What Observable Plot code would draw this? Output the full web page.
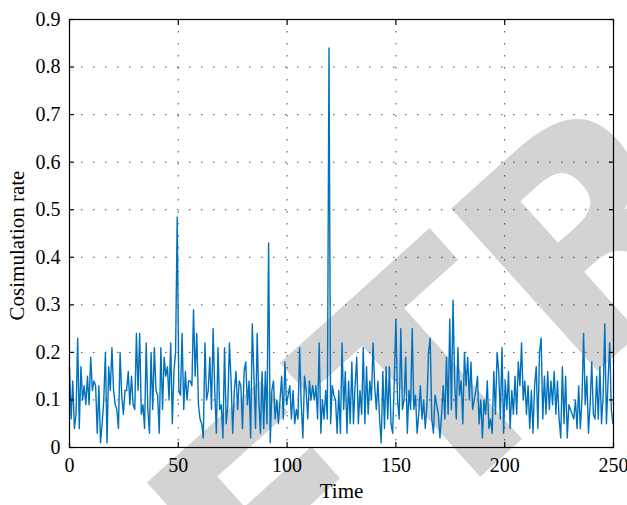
<!DOCTYPE html>
<html>
<head>
<meta charset="utf-8">
<script src="https://cdn.jsdelivr.net/npm/d3@7"></script>
<script src="https://cdn.jsdelivr.net/npm/@observablehq/plot@0.6"></script>
<style>
  html, body { margin: 0; padding: 0; background: #fff; }
  #chart svg { display: block; }
</style>
</head>
<body>
<div id="chart"></div>
<script>
// Sampling step of the series (time units)
const timeStep = 0.75;

// Cosimulation rate values, in time order
const segmentA = [
  0.17, 0.06, 0.14, 0.04, 0.07, 0.23, 0.04, 0.17, 0.10, 0.13,
  0.09, 0.15, 0.09, 0.19, 0.12, 0.14, 0.13, 0.03, 0.13, 0.01,
  0.05, 0.10, 0.20, 0.01, 0.17, 0.12, 0.21, 0.12, 0.09, 0.08,
  0.04, 0.20, 0.11, 0.07, 0.12, 0.12, 0.16, 0.09, 0.15, 0.09,
  0.08, 0.24, 0.12, 0.24, 0.07, 0.09, 0.04, 0.22, 0.08, 0.03,
  0.20, 0.08, 0.21, 0.12, 0.11, 0.03, 0.21, 0.08, 0.19, 0.15,
  0.17, 0.10, 0.22, 0.05, 0.16, 0.20, 0.485, 0.12, 0.11, 0.24,
  0.08, 0.16, 0.10, 0.14, 0.14, 0.13, 0.29, 0.15, 0.24, 0.09,
  0.06, 0.05, 0.02, 0.22
];
const segmentB = [
  0.10, 0.12, 0.19, 0.08, 0.25, 0.12, 0.03, 0.21, 0.08, 0.09,
  0.02, 0.21, 0.05, 0.09, 0.22, 0.14, 0.03, 0.12, 0.16, 0.08,
  0.14, 0.13, 0.04, 0.16, 0.18, 0.09, 0.14, 0.02, 0.26, 0.15,
  0.04, 0.24, 0.10, 0.03, 0.16, 0.04, 0.16, 0.05, 0.43
];
const segmentC = [
  0.01, 0.12, 0.14, 0.06, 0.10, 0.05, 0.10, 0.15, 0.06, 0.18,
  0.09, 0.11, 0.13, 0.06, 0.12, 0.05, 0.08, 0.06, 0.21, 0.09,
  0.02, 0.15, 0.12, 0.06, 0.14, 0.10, 0.13, 0.10, 0.13, 0.06,
  0.22, 0.03, 0.10, 0.06, 0.12, 0.06, 0.84
];
const segmentD = [
  0.05, 0.13, 0.11, 0.10, 0.03, 0.12, 0.03, 0.22, 0.08, 0.16,
  0.03, 0.14, 0.05, 0.18, 0.05, 0.13, 0.19, 0.05, 0.12, 0.07,
  0.21, 0.05, 0.17, 0.07, 0.14, 0.10, 0.22, 0.13, 0.08, 0.14,
  0.06, 0.01, 0.16, 0.04, 0.17, 0.06, 0.17, 0.05, 0.03, 0.14,
  0.27, 0.10, 0.06, 0.25, 0.08, 0.10, 0.19, 0.03, 0.12, 0.08,
  0.25, 0.08, 0.11, 0.03, 0.07, 0.13, 0.06, 0.10, 0.04, 0.09,
  0.20, 0.23, 0.06, 0.03, 0.11, 0.09, 0.07, 0.02, 0.07, 0.13,
  0.06, 0.19, 0.07, 0.27, 0.08, 0.31
];
const segmentE = [
  0.14, 0.06, 0.21, 0.11, 0.14, 0.05, 0.20, 0.13, 0.19, 0.10,
  0.18, 0.08, 0.10,
  0.12, 0.15, 0.05, 0.10, 0.02, 0.10, 0.07, 0.14, 0.04, 0.06,
  0.03, 0.16, 0.07, 0.20, 0.16, 0.06, 0.21, 0.03, 0.14, 0.08,
  0.16, 0.04, 0.12, 0.07, 0.15, 0.07, 0.18, 0.13, 0.22, 0.10,
  0.14, 0.07, 0.13, 0.04, 0.12, 0.03, 0.13, 0.17, 0.04, 0.20,
  0.23, 0.06, 0.15, 0.07, 0.16, 0.08, 0.14, 0.09, 0.16, 0.07,
  0.14, 0.06, 0.02, 0.17, 0.05, 0.15, 0.02, 0.09, 0.08, 0.07,
  0.06, 0.10, 0.04, 0.13, 0.04, 0.10, 0.24, 0.09, 0.15, 0.03,
  0.09, 0.18, 0.07, 0.06, 0.15, 0.06, 0.17, 0.05, 0.11, 0.26,
  0.05, 0.14, 0.22, 0.08, 0.05
];

const xTicks = [0, 50, 100, 150, 200, 250];
const yTicks = [0, 0.1, 0.2, 0.3, 0.4, 0.5, 0.6, 0.7, 0.8, 0.9];
const yTickLabels = ["0", "0.1", "0.2", "0.3", "0.4", "0.5", "0.6", "0.7", "0.8", "0.9"];
const xLabel = "Time";
const yLabel = "Cosimulation rate";
const watermark = "RETRACTED";

const values = [...segmentA, ...segmentB, ...segmentC, ...segmentD, ...segmentE];
const data = values.map((v, i) => ({t: i * timeStep, v}));

const font = "'Liberation Serif', 'Times New Roman', serif";
const fs = 20;

const chart = Plot.plot({
  width: 627,
  height: 505,
  marginLeft: 69,
  marginRight: 14,
  marginTop: 19,
  marginBottom: 58,
  style: {fontFamily: font, fontSize: fs + "px", background: "#fff", color: "#000", overflow: "hidden"},
  x: {domain: [0, 250]},
  y: {domain: [0, 0.9]},
  marks: [
    Plot.text([watermark], {frameAnchor: "middle", dx: 432, dy: -150, rotate: -42,
      fontSize: 300, fontWeight: "bold", fill: "#d3d3d3", fontFamily: "'DejaVu Sans', sans-serif"}),
    Plot.gridX({ticks: xTicks.slice(1, -1), stroke: "#000", strokeOpacity: 0.7, strokeWidth: 1, strokeDasharray: "1.5,10.5"}),
    Plot.gridY({ticks: yTicks.slice(1, -1), stroke: "#000", strokeOpacity: 0.7, strokeWidth: 1, strokeDasharray: "1.5,10.5"}),
    Plot.line(data, {x: "t", y: "v", stroke: "#0072BD", strokeWidth: 1.4}),
    Plot.frame({stroke: "#000", strokeWidth: 1.2}),
    Plot.axisX({anchor: "bottom", ticks: xTicks, tickSize: 0, tickPadding: 10, label: null, fontSize: fs, tickFormat: d => String(d)}),
    Plot.axisX({anchor: "bottom", ticks: xTicks, tickSize: -5, tickFormat: () => "", label: null, strokeWidth: 1.2}),
    Plot.axisX({anchor: "top", ticks: xTicks, tickSize: -5, tickFormat: () => "", label: null, strokeWidth: 1.2}),
    Plot.axisY({anchor: "left", ticks: yTicks, tickSize: 0, tickPadding: 9, label: null, fontSize: fs, tickFormat: (d, i) => yTickLabels[i]}),
    Plot.axisY({anchor: "left", ticks: yTicks, tickSize: -5, tickFormat: () => "", label: null, strokeWidth: 1.2}),
    Plot.axisY({anchor: "right", ticks: yTicks, tickSize: -5, tickFormat: () => "", label: null, strokeWidth: 1.2}),
    Plot.text([xLabel], {frameAnchor: "bottom", dy: 50, fontSize: 21, fill: "#000", textAnchor: "middle"}),
    Plot.text([yLabel], {frameAnchor: "left", dx: -52, dy: 12, rotate: -90, fontSize: 21, fill: "#000", textAnchor: "middle"})
  ]
});
document.getElementById("chart").appendChild(chart);
</script>
</body>
</html>
